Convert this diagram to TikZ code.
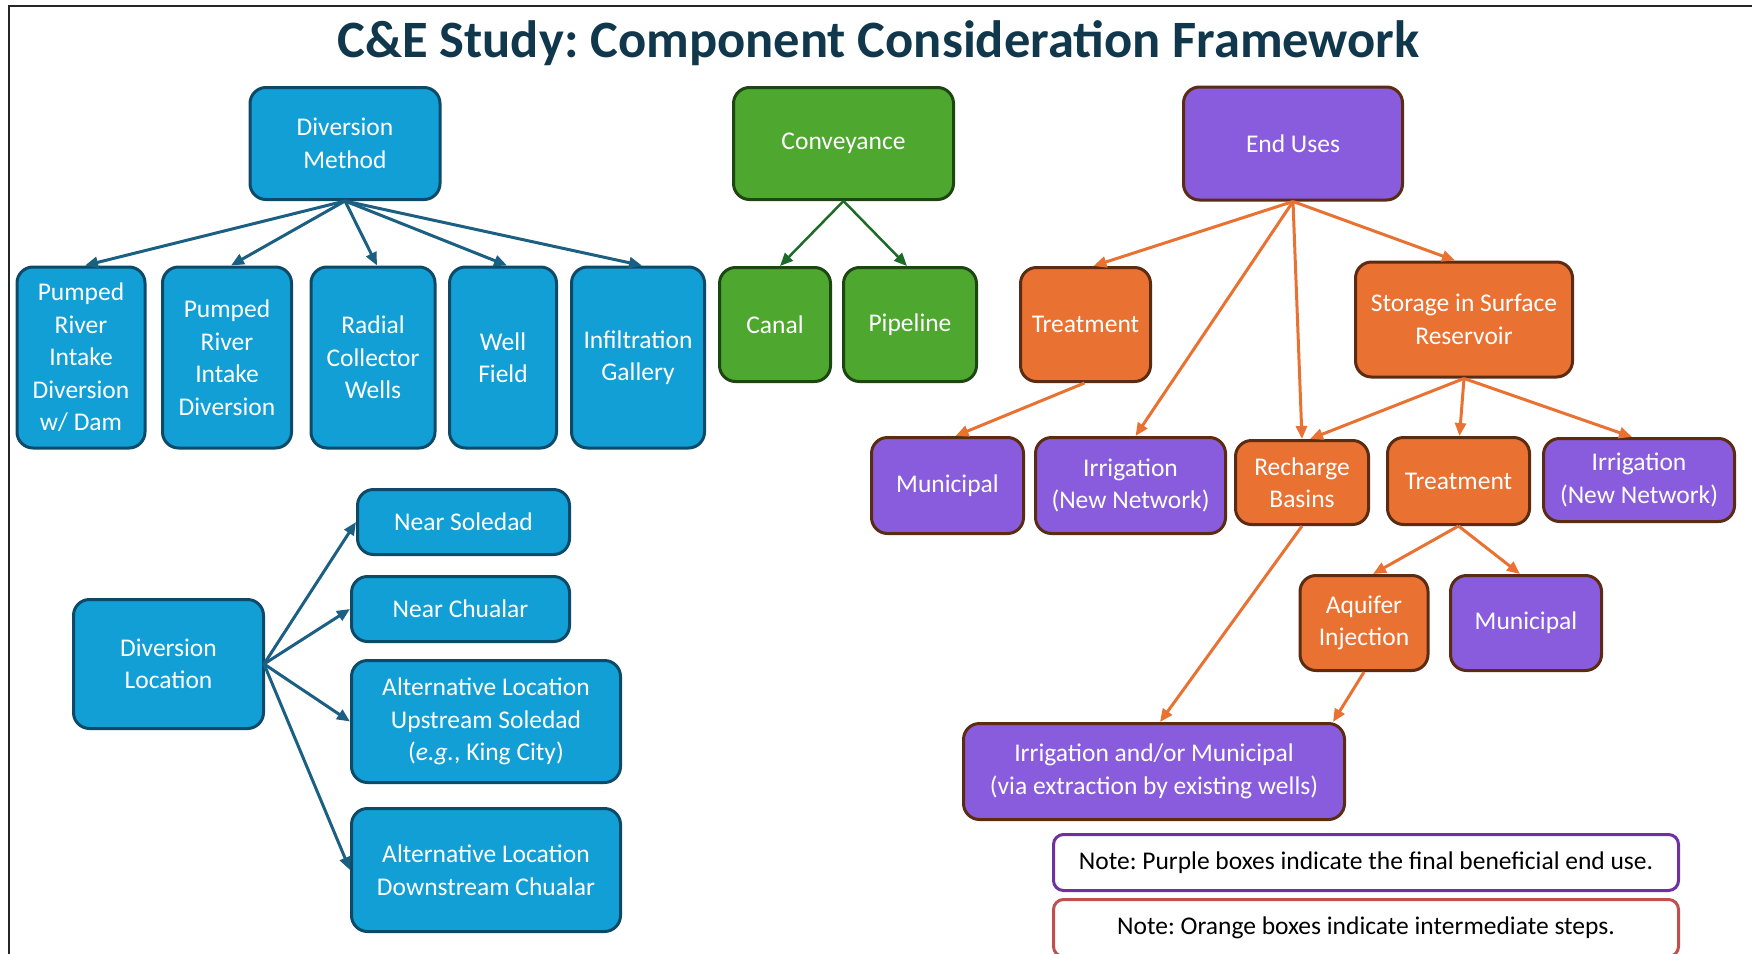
\documentclass[tikz,border=0pt]{standalone}
\usepackage{fontspec}
\setmainfont{Carlito}
\frenchspacing
\usetikzlibrary{arrows.meta}
\definecolor{bfill}{HTML}{119FD6}
\definecolor{bline}{HTML}{0D4A68}
\definecolor{barrow}{HTML}{1B5F83}
\definecolor{gfill}{HTML}{4EA72E}
\definecolor{gline}{HTML}{1E4612}
\definecolor{garrow}{HTML}{1E6A28}
\definecolor{pfill}{HTML}{885CDC}
\definecolor{ofill}{HTML}{E97132}
\definecolor{oline}{HTML}{5B2B12}
\definecolor{titlec}{HTML}{10374C}
\definecolor{npurple}{HTML}{7030A0}
\definecolor{nred}{HTML}{C0504D}
\begin{document}
\begin{tikzpicture}[x=1pt,y=-1pt,
  box/.style={rounded corners=16pt, line width=3pt, align=center, text=white,
    font=\fontsize{25.5}{32.5}\selectfont, inner sep=0pt},
  bbox/.style={box, fill=bfill, draw=bline},
  gbox/.style={box, fill=gfill, draw=gline},
  pbox/.style={box, fill=pfill, draw=oline},
  obox/.style={box, fill=ofill, draw=oline},
  notebox/.style={rounded corners=10pt, line width=3pt, fill=white, text=black,
    font=\fontsize{25.5}{30}\selectfont, inner sep=0pt},
  sz/.style 2 args={minimum width=#1pt-3pt, minimum height=#2pt-3pt},
  barr/.style={draw=barrow, line width=3pt, -{Triangle[length=13pt,width=11pt]}},
  garr/.style={draw=garrow, line width=2.5pt, -{Triangle[length=13pt,width=11pt]}},
  oarr/.style={draw=ofill, line width=3pt, -{Triangle[length=13pt,width=11pt]}}
]
\useasboundingbox (0,0) rectangle (1752,953);
\draw[line width=2pt, black!85] (9,960) -- (9,6) -- (1760,6);

\node[anchor=base, text=titlec, font=\fontsize{52.5}{57}\selectfont\bfseries] (title) at (878.5,57) {C\&E Study: Component Consideration Framework};

% top row
\node[bbox, sz={193}{115}] (dm) at (345,143.5) {Diversion\\Method};
\node[gbox, sz={223}{115}] (conv) at (843.5,143.5) {Conveyance};
\node[pbox, sz={222}{116}] (eu) at (1293,143.5) {End Uses};

% diversion methods
\node[bbox, sz={131}{184}] (m1) at (81,357.5) {Pumped\\River\\Intake\\Diversion\\w/ Dam};
\node[bbox, sz={132}{184}] (m2) at (227,357.5) {Pumped\\River\\Intake\\Diversion};
\node[bbox, sz={127}{184}] (m3) at (373,357.5) {Radial\\Collector\\Wells};
\node[bbox, sz={110}{184}] (m4) at (503,357.5) {Well\\Field};
\node[bbox, sz={136}{184}] (m5) at (638,357.5) {Infiltration\\Gallery};

% conveyance
\node[gbox, sz={114}{117}] (canal) at (775,324.5) {Canal};
\node[gbox, sz={136}{117}] (pipe) at (910,324.5) {Pipeline};

% end uses
\node[obox, sz={133}{117}] (tr1) at (1085.5,324.5) {Treatment};
\node[obox, sz={220}{118}] (stor) at (1464,319.5) {Storage in Surface\\Reservoir};

\node[pbox, sz={155}{99}] (mun1) at (947.5,485.5) {Municipal};
\node[pbox, sz={193}{99}] (irr1) at (1130.5,485.5) {Irrigation\\(New Network)};
\node[obox, sz={136}{87}] (rech) at (1302,482.5) {Recharge\\Basins};
\node[obox, sz={145}{90}] (tr2) at (1458.5,481) {Treatment};
\node[pbox, sz={194}{86}] (irr2) at (1639,480) {Irrigation\\(New Network)};

\node[obox, sz={131}{98}] (aq) at (1364,623) {Aquifer\\Injection};
\node[pbox, sz={154}{98}] (mun2) at (1526,623) {Municipal};

\node[pbox, sz={384}{99}] (irrmun) at (1154,771.5) {Irrigation and/or Municipal\\(via extraction by existing wells)};

% notes
\node[notebox, draw=npurple, sz={628}{59}] (n1) at (1366,862.5) {Note: Purple boxes indicate the final beneficial end use.};
\node[notebox, draw=nred, sz={628}{60}] (n2) at (1366,928) {Note: Orange boxes indicate intermediate steps.};

% diversion location
\node[bbox, sz={193}{132}] (dl) at (168.5,664) {Diversion\\Location};
\node[bbox, sz={215}{68}] (l1) at (463.5,522) {Near Soledad};
\node[bbox, sz={221}{68}] (l2) at (460.5,609) {Near Chualar};
\node[bbox, sz={272}{125}] (l3) at (486,721.5) {Alternative Location\\Upstream Soledad\\(\textit{e.g.}, King City)};
\node[bbox, sz={272}{126}] (l4) at (486,870) {Alternative Location\\Downstream Chualar};

% arrows: diversion method
\foreach \t in {m1,m2,m3,m4,m5} \draw[barr] (dm.south) -- ([xshift=4pt]\t.north);

% arrows: diversion location
\foreach \t in {l1,l2,l3,l4} \draw[barr] ([xshift=-1pt]dl.east) -- (\t.west);

% conveyance
\draw[garr] (conv.south) -- ([xshift=5pt]canal.north);
\draw[garr] (conv.south) -- ([xshift=-3pt]pipe.north);

% end uses
\draw[oarr] (eu.south) -- ([xshift=8pt]tr1.north);
\draw[oarr] (eu.south) -- ([xshift=5pt]irr1.north);
\draw[oarr] (eu.south) -- (rech.north);
\draw[oarr] (eu.south) -- ([xshift=-9pt]stor.north);
\draw[oarr] ([xshift=-1pt]tr1.south) -- ([xshift=8pt]mun1.north);
\draw[oarr] (stor.south) -- ([xshift=8pt]rech.north);
\draw[oarr] (stor.south) -- ([xshift=1pt]tr2.north);
\draw[oarr] (stor.south) -- ([xshift=-7pt]irr2.north);
\draw[oarr] (tr2.south) -- ([xshift=9pt]aq.north);
\draw[oarr] (tr2.south) -- ([xshift=-6pt]mun2.north);
\draw[oarr] (rech.south) -- ([xshift=6pt]irrmun.north);
\draw[oarr] (aq.south) -- ([xshift=179pt]irrmun.north);
\end{tikzpicture}
\end{document}
